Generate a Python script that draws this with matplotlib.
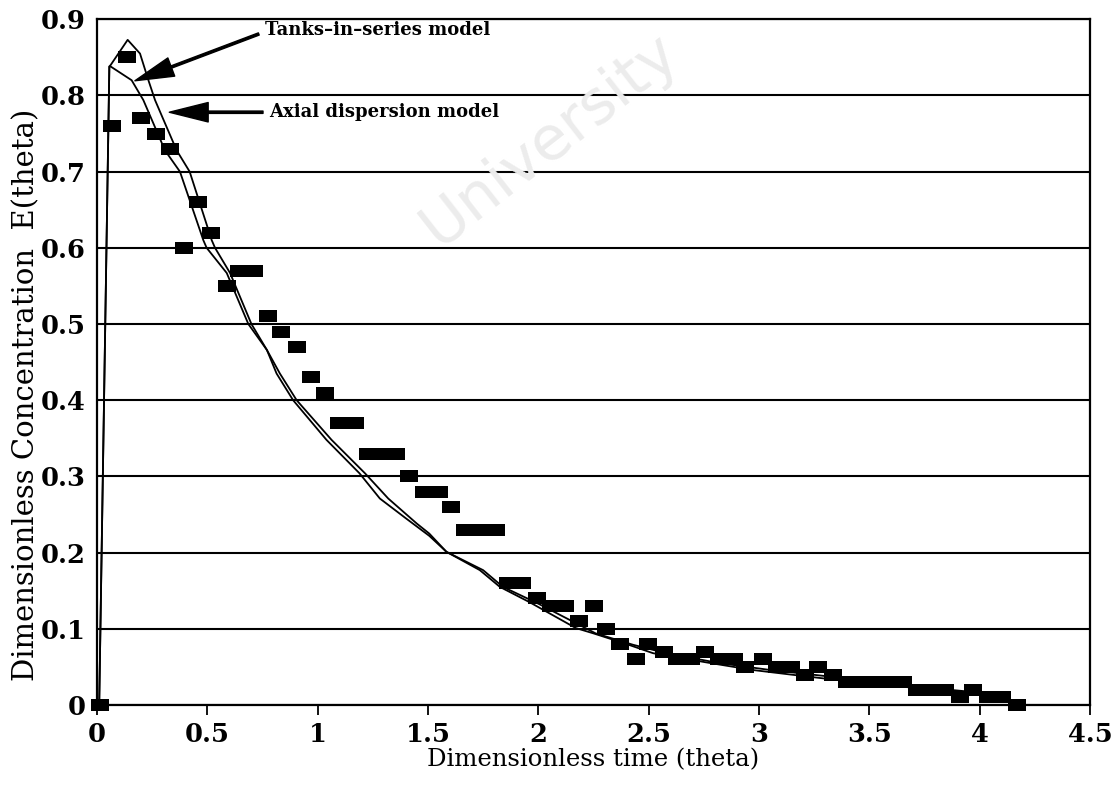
import matplotlib
matplotlib.use("Agg")
import matplotlib.pyplot as plt
from matplotlib.path import Path
from matplotlib.patches import FancyArrowPatch

# ---- data -------------------------------------------------------------
theta = [0.012, 0.067, 0.138, 0.199, 0.266, 0.330, 0.394, 0.457, 0.517, 0.589,
         0.645, 0.712, 0.776, 0.835, 0.905, 0.970, 1.035, 1.095, 1.168, 1.226,
         1.290, 1.355, 1.415, 1.484, 1.550, 1.606, 1.668, 1.737, 1.807, 1.863,
         1.928, 1.992, 2.057, 2.119, 2.185, 2.253, 2.305, 2.370, 2.441, 2.499,
         2.570, 2.630, 2.693, 2.757, 2.819, 2.886, 2.936, 3.017, 3.080, 3.144,
         3.207, 3.270, 3.334, 3.397, 3.461, 3.524, 3.588, 3.651, 3.715, 3.779,
         3.842, 3.912, 3.970, 4.040, 4.100, 4.170]
E_exp = [0.00, 0.76, 0.85, 0.77, 0.75, 0.73, 0.60, 0.66, 0.62, 0.55,
         0.57, 0.57, 0.51, 0.49, 0.47, 0.43, 0.41, 0.37, 0.37, 0.33,
         0.33, 0.33, 0.30, 0.28, 0.28, 0.26, 0.23, 0.23, 0.23, 0.16,
         0.16, 0.14, 0.13, 0.13, 0.11, 0.13, 0.10, 0.08, 0.06, 0.08,
         0.07, 0.06, 0.06, 0.07, 0.06, 0.06, 0.05, 0.06, 0.05, 0.05,
         0.04, 0.05, 0.04, 0.03, 0.03, 0.03, 0.03, 0.03, 0.02, 0.02,
         0.02, 0.01, 0.02, 0.01, 0.01, 0.00]

tanks_x = [0.01, 0.056, 0.062, 0.157, 0.21, 0.308, 0.376, 0.482, 0.497, 0.588,
           0.686, 0.77, 0.814, 0.889, 1.04, 1.19, 1.282, 1.40, 1.506, 1.584,
           1.735, 1.826, 1.96, 2.17, 2.25, 2.40, 2.52, 2.76, 2.97, 3.20,
           3.50, 3.80, 4.10]
tanks_y = [0.0, 0.838, 0.838, 0.82, 0.794, 0.728, 0.70, 0.61, 0.60, 0.567,
           0.50, 0.466, 0.435, 0.40, 0.348, 0.304, 0.271, 0.245, 0.222, 0.201,
           0.177, 0.155, 0.135, 0.101, 0.094, 0.080, 0.068, 0.056, 0.046, 0.038,
           0.028, 0.020, 0.012]

axial_x = [0.01, 0.056, 0.062, 0.097, 0.139, 0.195, 0.233, 0.263, 0.361, 0.42,
           0.520, 0.535, 0.603, 0.70, 0.77, 0.829, 0.905, 1.063, 1.215, 1.32,
           1.45, 1.506, 1.584, 1.75, 1.84, 2.00, 2.22, 2.26, 2.43, 2.58,
           2.82, 3.05, 3.30, 3.60, 3.90, 4.12]
axial_y = [0.0, 0.838, 0.840, 0.855, 0.873, 0.855, 0.82, 0.794, 0.728, 0.70,
           0.61, 0.60, 0.567, 0.50, 0.466, 0.435, 0.40, 0.348, 0.304, 0.271,
           0.238, 0.225, 0.201, 0.177, 0.155, 0.133, 0.100, 0.094, 0.079, 0.068,
           0.055, 0.046, 0.038, 0.027, 0.019, 0.013]

x_ticks = [0, 0.5, 1, 1.5, 2, 2.5, 3, 3.5, 4, 4.5]
x_ticklabels = ["0", "0.5", "1", "1.5", "2", "2.5", "3", "3.5", "4", "4.5"]
y_ticks = [0, 0.1, 0.2, 0.3, 0.4, 0.5, 0.6, 0.7, 0.8, 0.9]
y_ticklabels = ["0", "0.1", "0.2", "0.3", "0.4", "0.5", "0.6", "0.7", "0.8", "0.9"]

# ---- figure -----------------------------------------------------------
fig = plt.figure(figsize=(11.11, 7.87), dpi=100)
ax = fig.add_axes([0.0873, 0.1042, 0.8937, 0.8713])

ax.set_xlim(0, 4.5)
ax.set_ylim(0, 0.9)

# watermark (faint)
fig.text(0.495, 0.822, "University", fontsize=44, color="#ececec", rotation=38,
         ha="center", va="center", family="DejaVu Sans", zorder=0)
ax.patch.set_alpha(0)

# horizontal gridlines
ax.set_yticks(y_ticks)
ax.yaxis.grid(True, color="black", linewidth=1.5)
ax.set_axisbelow(True)

# rectangular marker
rect = Path([(-1.0, -0.68), (1.0, -0.68), (1.0, 0.68), (-1.0, 0.68), (-1.0, -0.68)],
            [Path.MOVETO, Path.LINETO, Path.LINETO, Path.LINETO, Path.CLOSEPOLY])

ax.plot(tanks_x, tanks_y, color="black", linewidth=1.3, zorder=3)
ax.plot(axial_x, axial_y, color="black", linewidth=1.3, zorder=3)
ax.plot(theta, E_exp, linestyle="none", marker=rect, markersize=13.6,
        color="black", markeredgewidth=0, zorder=4, clip_on=False)

for s in ax.spines.values():
    s.set_linewidth(1.6)
    s.set_color("black")

serif = "DejaVu Serif"
ax.set_xticks(x_ticks)
ax.set_xticklabels(x_ticklabels)
ax.set_yticklabels(y_ticklabels)
ax.tick_params(axis="x", direction="out", length=7, width=1.3, pad=5)
ax.tick_params(axis="y", length=0, pad=8)
for lab in ax.get_xticklabels() + ax.get_yticklabels():
    lab.set_family(serif)
    lab.set_fontweight("bold")
    lab.set_fontsize(18.5)

ax.set_xlabel("Dimensionless time (theta)", family=serif, fontsize=17.6, labelpad=1)
ax.set_ylabel("Dimensionless Concentration  E(theta)", family=serif, fontsize=21)
ax.yaxis.set_label_coords(-0.057, 0.452)

# annotations
ann_font = dict(family=serif, fontsize=13, fontweight="bold")
ax.text(0.76, 0.886, "Tanks\u2013in\u2013series model", ha="left", va="center", **ann_font)
ax.text(0.78, 0.778, "Axial dispersion model", ha="left", va="center", **ann_font)

arrow_style = "simple,head_length=2.0,head_width=1.0,tail_width=0.12"
ax.add_patch(FancyArrowPatch((0.745, 0.882), (0.16, 0.818), arrowstyle=arrow_style,
                             mutation_scale=14, color="black", zorder=5))
ax.add_patch(FancyArrowPatch((0.765, 0.778), (0.315, 0.778), arrowstyle=arrow_style,
                             mutation_scale=14, color="black", zorder=5))

fig.savefig("out.png", dpi=100)
